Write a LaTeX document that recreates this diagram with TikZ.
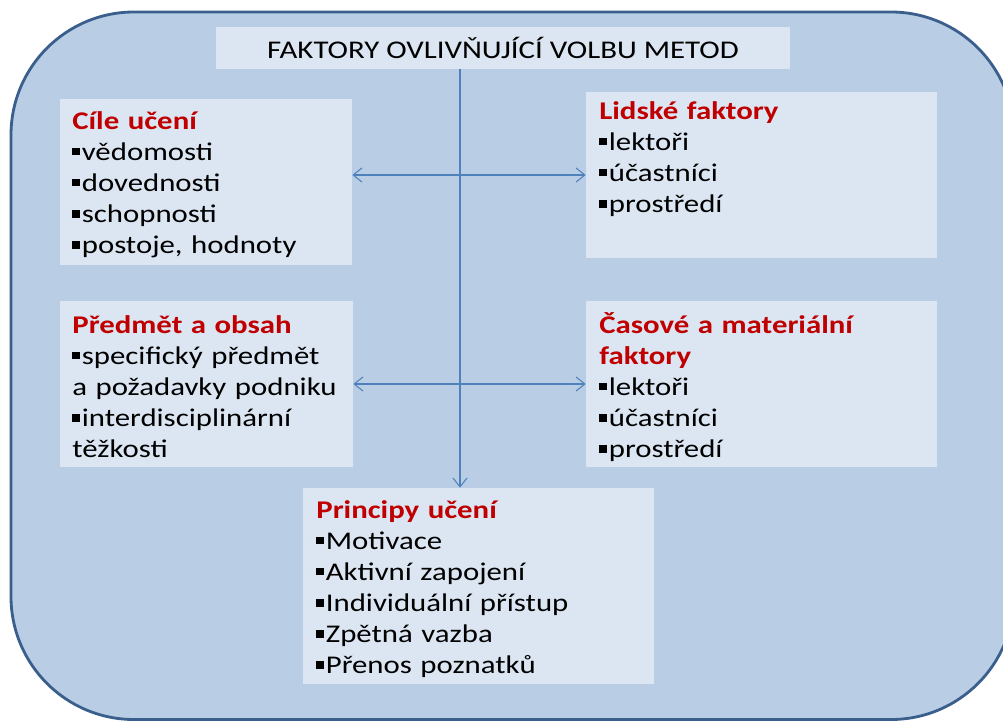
\documentclass[tikz,border=0pt]{standalone}
\usepackage{fontspec}
\setmainfont{Carlito}[FakeStretch=1.21]
\usepackage{tikz}
\usetikzlibrary{arrows.meta,fit}
\definecolor{panelblue}{HTML}{B9CDE5}
\definecolor{paneledge}{HTML}{3B5F8C}
\definecolor{boxblue}{HTML}{DCE6F2}
\definecolor{linkblue}{HTML}{4F81BD}
\definecolor{headred}{HTML}{C00000}
\def\sq{\rule[2.7pt]{4.6pt}{4.3pt}\hspace{0.8pt}}
\def\hd#1{\textcolor{headred}{\bfseries #1}}
\tikzset{
  box/.style={fill=boxblue, inner sep=0pt},
  txt/.style={anchor=base west, inner sep=0pt, align=left, text width=7cm,
    font=\fontsize{14.5}{17.7}\selectfont},
  link/.style={draw=linkblue, line width=0.6pt, >={Straight Barb[length=5pt,width=8pt]}}
}

\begin{document}
\begin{tikzpicture}[x=0.02cm, y=-0.02cm]
			%%%%% START %%%%%
			\clip (0, 0) rectangle (1003, 720);
			\draw[fill=panelblue, draw=paneledge, line width=1.6pt, rounded corners=70pt] (11, 12) rectangle (1014, 719.5);
			
			\node[box, fit={(216, 27) (790, 69)}] (title) {};
			\node[font=\fontsize{14.5}{17.7}\selectfont, anchor=base, inner sep=0pt] (titletxt) at (503, 58) {FAKTORY OVLIVŇUJÍCÍ VOLBU METOD};
			
			\node[box, fit={(60, 99) (352, 265)}] (goals) {};
			\node[txt] (goalstxt) at (72, 129) {\hd{Cíle učení}\\ \sq vědomosti\\ \sq dovednosti\\ \sq schopnosti\\ \sq postoje, hodnoty};
			
			\node[box, fit={(586, 92) (937, 258)}] (human) {};
			\node[txt] (humantxt) at (599, 119) {\hd{Lidské faktory}\\ \sq lektoři\\ \sq účastníci\\ \sq prostředí};
			
			\node[box, fit={(60, 301) (353, 467)}] (subject) {};
			\node[txt] (subjecttxt) at (72, 333) {\hd{Předmět a obsah}\\ \sq specifický předmět\\ a požadavky podniku\\ \sq interdisciplinární\\ těžkosti};
			
			\node[box, fit={(586, 301) (937, 467)}] (timemat) {};
			\node[txt] (timemattxt) at (599, 333) {\hd{Časové a materiální}\\ \hd{faktory}\\ \sq lektoři\\ \sq účastníci\\ \sq prostředí};
			
			\node[box, fit={(303, 488) (654, 684)}] (principles) {};
			\node[txt] (principlestxt) at (316, 518) {\hd{Principy učení}\\ \sq Motivace\\ \sq Aktivní zapojení\\ \sq Individuální přístup\\ \sq Zpětná vazba\\ \sq Přenos poznatků};
			
			% links
			\coordinate (spine) at (460, 0);
			\draw[link, ->] (title.south -| spine) -- (principles.north -| spine);
			\draw[link, <->] (goals.east |- human.west) -- (human.west);
			\draw[link, <->] (subject.east) -- (timemat.west);
			%%%%% END %%%%%
\end{tikzpicture}
\end{document}
